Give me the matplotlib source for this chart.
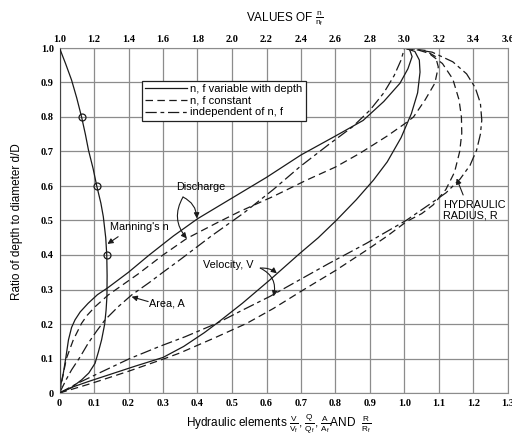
import matplotlib
matplotlib.use("Agg")
import matplotlib.pyplot as plt
from matplotlib.lines import Line2D

plt.rcParams['font.family'] = ['Liberation Sans', 'DejaVu Sans']
plt.rcParams['mathtext.fontset'] = 'custom'
plt.rcParams['mathtext.rm'] = 'Liberation Sans'
plt.rcParams['mathtext.it'] = 'Liberation Sans'

# ---- data ----
# Manning's n (top axis, n/nf) vs depth ratio
mann_n = [1.0, 1.035, 1.07, 1.10, 1.128, 1.15, 1.168, 1.195, 1.216, 1.24, 1.254, 1.268, 1.274,
          1.276, 1.275, 1.27, 1.262, 1.244, 1.226, 1.206, 1.17, 1.128, 1.07, 1.0]
mann_d = [1.0, 0.955, 0.907, 0.855, 0.8, 0.75, 0.704, 0.65, 0.6, 0.55, 0.511, 0.45, 0.4,
          0.34, 0.28, 0.24, 0.2, 0.154, 0.12, 0.086, 0.058, 0.038, 0.016, 0.0]
mark_n = [1.128, 1.216, 1.274]
mark_d = [0.8, 0.6, 0.4]

# Discharge, n,f variable (solid)
qs_x = [0, 0.005, 0.011, 0.018, 0.026, 0.035, 0.045, 0.06, 0.083, 0.11, 0.14, 0.2, 0.26, 0.33,
        0.4, 0.5, 0.6, 0.7, 0.8, 0.88, 0.94, 0.987, 1.01, 1.022, 1.015, 1.0]
qs_y = [0, 0.03, 0.057, 0.1, 0.154, 0.19, 0.212, 0.235, 0.26, 0.285, 0.305, 0.35, 0.4, 0.455,
        0.505, 0.565, 0.625, 0.69, 0.745, 0.79, 0.845, 0.898, 0.94, 0.975, 0.995, 1.0]
# Discharge, n,f constant (dashed)
qd_x = [0, 0.008, 0.02, 0.04, 0.064, 0.08, 0.103, 0.141, 0.228, 0.3, 0.369, 0.45, 0.52, 0.62,
        0.716, 0.8, 0.871, 0.95, 1.0, 1.026, 1.06, 1.088, 1.098, 1.09, 1.06, 1.0]
qd_y = [0, 0.04, 0.1, 0.154, 0.202, 0.225, 0.25, 0.284, 0.345, 0.4, 0.448, 0.49, 0.525, 0.57,
        0.617, 0.655, 0.695, 0.745, 0.78, 0.80, 0.85, 0.898, 0.945, 0.975, 0.993, 1.0]
# Area (dash-dot)
a_x = [0, 0.02, 0.035, 0.06, 0.083, 0.108, 0.132, 0.17, 0.209, 0.26, 0.3, 0.349, 0.44, 0.533,
       0.62, 0.697, 0.78, 0.85, 0.90, 0.94, 0.97, 0.99, 1.0]
a_y = [0, 0.04, 0.067, 0.105, 0.144, 0.18, 0.212, 0.25, 0.284, 0.32, 0.35, 0.386, 0.455, 0.521,
       0.59, 0.656, 0.72, 0.772, 0.82, 0.87, 0.92, 0.965, 1.0]
# Velocity, n,f variable (solid)
vs_x = [0, 0.04, 0.083, 0.15, 0.22, 0.3, 0.36, 0.42, 0.46, 0.53, 0.61, 0.697, 0.75, 0.803, 0.86,
        0.91, 0.95, 0.99, 1.02, 1.038, 1.045, 1.043, 1.03, 1.0]
vs_y = [0, 0.018, 0.033, 0.055, 0.078, 0.103, 0.135, 0.175, 0.205, 0.26, 0.328, 0.405, 0.45,
        0.501, 0.56, 0.617, 0.67, 0.74, 0.81, 0.87, 0.93, 0.965, 0.99, 1.0]
# Velocity / hydraulic radius, n,f constant (dashed)
vd_x = [0, 0.05, 0.093, 0.2, 0.3, 0.349, 0.45, 0.543, 0.62, 0.707, 0.8, 0.89, 0.95, 1.006, 1.05,
        1.083, 1.12, 1.145, 1.16, 1.166, 1.165, 1.158, 1.14, 1.11, 1.07, 1.03, 1.0]
vd_y = [0, 0.015, 0.028, 0.063, 0.098, 0.116, 0.16, 0.202, 0.245, 0.299, 0.355, 0.414, 0.455,
        0.497, 0.52, 0.545, 0.59, 0.64, 0.7, 0.753, 0.8, 0.85, 0.91, 0.955, 0.985, 0.997, 1.0]
# Velocity / hydraulic radius, independent (dash-dot)
vr_x = [0, 0.05, 0.113, 0.204, 0.29, 0.364, 0.456, 0.53, 0.61, 0.678, 0.78, 0.89, 1.006, 1.07,
        1.12, 1.161, 1.19, 1.209, 1.22, 1.224, 1.22, 1.205, 1.18, 1.14, 1.08, 1.0]
vr_y = [0, 0.027, 0.057, 0.1, 0.135, 0.163, 0.202, 0.24, 0.28, 0.318, 0.375, 0.434, 0.501,
        0.545, 0.58, 0.62, 0.66, 0.704, 0.75, 0.791, 0.84, 0.885, 0.925, 0.96, 0.988, 1.0]

bottom_ticks = [0, 0.1, 0.2, 0.3, 0.4, 0.5, 0.6, 0.7, 0.8, 0.9, 1.0, 1.1, 1.2, 1.3]
bottom_labels = ['0', '0.1', '0.2', '0.3', '0.4', '0.5', '0.6', '0.7', '0.8', '0.9', '1.0', '1.1', '1.2', '1.3']
top_ticks = [1.0, 1.2, 1.4, 1.6, 1.8, 2.0, 2.2, 2.4, 2.6, 2.8, 3.0, 3.2, 3.4, 3.6]
top_labels = ['1.0', '1.2', '1.4', '1.6', '1.8', '2.0', '2.2', '2.4', '2.6', '2.8', '3.0', '3.2', '3.4', '3.6']
y_ticks = [0, 0.1, 0.2, 0.3, 0.4, 0.5, 0.6, 0.7, 0.8, 0.9, 1.0]
y_labels = ['0', '0.1', '0.2', '0.3', '0.4', '0.5', '0.6', '0.7', '0.8', '0.9', '1.0']

# ---- figure ----
fig = plt.figure(figsize=(5.12, 4.36), dpi=100)
ax = fig.add_axes([59.5/512, 1-393/436, 448.5/512, 345/436])
ax.set_xlim(0, 1.3)
ax.set_ylim(0, 1.0)

lc = '#1a1a1a'
lw = 0.9
DASH = (0, (6, 3.5))
DASHDOT = (0, (9, 3, 3, 3))

ax.plot(qs_x, qs_y, color=lc, lw=lw, ls='-')
ax.plot(qd_x, qd_y, color=lc, lw=lw, ls=DASH)
ax.plot(a_x, a_y, color=lc, lw=lw, ls=DASHDOT)
ax.plot(vs_x, vs_y, color=lc, lw=lw, ls='-')
ax.plot(vd_x, vd_y, color=lc, lw=lw, ls=DASH)
ax.plot(vr_x, vr_y, color=lc, lw=lw, ls=DASHDOT)

ax.set_xticks(bottom_ticks)
ax.set_xticklabels(bottom_labels)
ax.set_yticks(y_ticks)
ax.set_yticklabels(y_labels)
ax.grid(True, color='#8c8c8c', lw=0.9)
ax.set_axisbelow(True)
ax.tick_params(length=0, pad=4, labelsize=7.5)
for lab in ax.get_xticklabels() + ax.get_yticklabels():
    lab.set_family(['Liberation Serif', 'DejaVu Serif'])
    lab.set_fontweight('bold')
for s in ['top', 'right', 'bottom']:
    ax.spines[s].set_color('#8c8c8c')
ax.spines['left'].set_color('#444444')

ax2 = ax.twiny()
ax2.set_xlim(1.0, 3.6)
ax2.set_xticks(top_ticks)
ax2.set_xticklabels(top_labels)
ax2.tick_params(length=0, pad=3, labelsize=7.5)
for lab in ax2.get_xticklabels():
    lab.set_family(['Liberation Serif', 'DejaVu Serif'])
    lab.set_fontweight('bold')
for s in ax2.spines.values():
    s.set_visible(False)
ax2.plot(mann_n, mann_d, color=lc, lw=lw)
ax2.plot(mark_n, mark_d, ls='none', marker='o', ms=5, mfc='none', mec=lc, mew=0.9)

# legend
handles = [Line2D([], [], color=lc, lw=lw, ls='-'),
           Line2D([], [], color=lc, lw=lw, ls=DASH),
           Line2D([], [], color=lc, lw=lw, ls=DASHDOT)]
leg = ax.legend(handles, ['n, f variable with depth', 'n, f constant', 'independent of n, f'],
                loc='upper left', bbox_to_anchor=(0.183, 0.905), fontsize=8, frameon=True,
                fancybox=False, edgecolor='#222222', framealpha=1, handlelength=3.8,
                handletextpad=0.3, borderpad=0.3, labelspacing=0.15, borderaxespad=0)
leg.get_frame().set_linewidth(0.9)

ap = dict(arrowstyle='-|>', color=lc, lw=0.8, mutation_scale=8, shrinkA=0, shrinkB=0)
ax.text(0.146, 0.481, "Manning's n", fontsize=7.8, va='center', ha='left')
ax.annotate('', xy=(0.139, 0.432), xytext=(0.17, 0.453), arrowprops=ap)

ax.text(0.41, 0.597, "Discharge", fontsize=7.8, va='center', ha='center')
ax.annotate('', xy=(0.398, 0.506), xytext=(0.358, 0.568),
            arrowprops=dict(ap, connectionstyle='arc3,rad=-0.3'))
ax.annotate('', xy=(0.369, 0.448), xytext=(0.358, 0.568),
            arrowprops=dict(ap, connectionstyle='arc3,rad=0.35'))

ax.text(0.49, 0.371, "Velocity, V", fontsize=7.8, va='center', ha='center')
ax.annotate('', xy=(0.63, 0.347), xytext=(0.582, 0.362),
            arrowprops=dict(ap, connectionstyle='arc3,rad=-0.2'))
ax.annotate('', xy=(0.62, 0.28), xytext=(0.582, 0.362),
            arrowprops=dict(ap, connectionstyle='arc3,rad=-0.4'))

ax.text(0.26, 0.26, "Area, A", fontsize=7.8, va='center', ha='left')
ax.annotate('', xy=(0.209, 0.279), xytext=(0.257, 0.265), arrowprops=ap)

ax.text(1.112, 0.53, "HYDRAULIC\nRADIUS, R", fontsize=7.8, va='center', ha='left', linespacing=1.1)
ax.annotate('', xy=(1.151, 0.622), xytext=(1.17, 0.574), arrowprops=ap)

fig.text(285/512, 1-19/436, r"VALUES OF $\frac{\mathrm{n}}{\mathrm{n_f}}$", fontsize=8.5,
         ha='center', va='center')
fig.text(279/512, 1-424/436,
         r"Hydraulic elements $\frac{\mathrm{V}}{\mathrm{V_f}}$, $\frac{\mathrm{Q}}{\mathrm{Q_f}}$, "
         r"$\frac{\mathrm{A}}{\mathrm{A_f}}$AND  $\frac{\mathrm{R}}{\mathrm{R_f}}$",
         fontsize=8.5, ha='center', va='center')
fig.text(17/512, 1-222/436, "Ratio of depth to diameter d/D", fontsize=8.5,
         rotation=90, ha='center', va='center')

fig.savefig('out.png', dpi=100)
